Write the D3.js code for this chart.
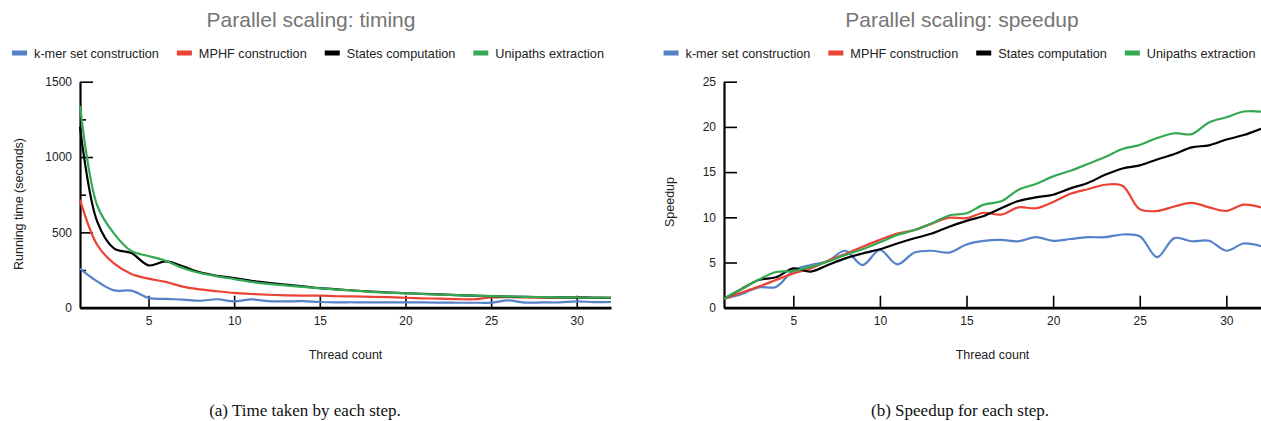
<!DOCTYPE html>
<html>
<head>
<meta charset="utf-8">
<script src="https://cdn.jsdelivr.net/npm/d3@7"></script>
<style>
  body { margin: 0; background: #fff; }
  svg { display: block; font-family: "Liberation Sans", Arial, sans-serif; }
  .tick text { font-size: 12px; fill: #222; }
  .caption { font-family: "Liberation Serif", "Times New Roman", serif; }
</style>
</head>
<body>
<svg id="chart" width="1261" height="421"></svg>
<script>
// thread counts on the x axis
var threads = [1, 2, 3, 4, 5, 6, 7, 8, 9, 10, 11, 12, 13, 14, 15, 16,
               17, 18, 19, 20, 21, 22, 23, 24, 25, 26, 27, 28, 29, 30, 31, 32];

var seriesNames = ["k-mer set construction", "MPHF construction", "States computation", "Unipaths extraction"];
var seriesColors = ["#5581c9", "#ea4335", "#000000", "#34a853"];

// running time (seconds)
var kmerTime     = [260, 175, 115, 113, 65, 58, 54, 46, 56, 42, 55, 43, 42, 43, 38, 36,
                    36, 35, 36, 35, 35, 34, 33, 33, 34, 48, 34, 35, 35, 42, 37, 38];
var mphfTime     = [717, 418, 292, 224, 193, 171, 140, 122, 109, 98, 91, 86, 82, 80, 80, 76,
                    75, 72, 70, 66, 62, 60, 57, 56, 68, 70, 68, 66, 68, 70, 66, 66];
var statesTime   = [1200, 573, 392, 363, 281, 308, 275, 235, 212, 197, 179, 165, 153, 142, 130, 122,
                    114, 107, 101, 96, 92, 88, 84, 80, 77, 74, 72, 70, 68, 67, 66, 65];
var unipathsTime = [1340, 680, 490, 376, 343, 312, 263, 230, 208, 190, 171, 158, 148, 138, 129, 120,
                    113, 105, 100, 95, 91, 87, 83, 80, 77, 74, 72, 71, 69, 68, 67, 66];

// speedup
var kmerSpeedup     = [1, 1.5, 2.25, 2.3, 4.1, 4.72, 5.17, 6.3, 4.72, 6.38, 4.8, 6.1, 6.3, 6.1, 7.0, 7.4,
                       7.5, 7.35, 7.8, 7.4, 7.6, 7.8, 7.8, 8.1, 7.9, 5.6, 7.7, 7.35, 7.4, 6.3, 7.1, 6.8];
var mphfSpeedup     = [1, 1.66, 2.33, 3.06, 3.8, 4.35, 5.2, 5.94, 6.75, 7.5, 8.2, 8.6, 9.3, 9.95, 9.9, 10.5,
                       10.3, 11.1, 11.0, 11.7, 12.6, 13.1, 13.6, 13.5, 10.9, 10.7, 11.2, 11.6, 11.1, 10.7, 11.4, 11.1];
var statesSpeedup   = [1, 2.05, 3.06, 3.36, 4.35, 4.0, 4.72, 5.46, 6.0, 6.46, 7.1, 7.68, 8.2, 8.96, 9.6, 10.15,
                       11.0, 11.8, 12.2, 12.5, 13.2, 13.8, 14.7, 15.4, 15.75, 16.4, 17.0, 17.74, 17.96, 18.6, 19.1, 19.8];
var unipathsSpeedup = [1, 2.05, 3.1, 3.95, 4.06, 4.54, 5.1, 5.83, 6.46, 7.23, 8.04, 8.6, 9.34, 10.2, 10.44, 11.4,
                       11.77, 13.05, 13.68, 14.53, 15.15, 15.9, 16.67, 17.56, 18.0, 18.77, 19.3, 19.2, 20.5, 21.06, 21.7, 21.7];

var threadTicks = [5, 10, 15, 20, 25, 30];
var timeTicks = [0, 500, 1000, 1500];
var timeMinorTicks = [250, 750, 1250];
var speedupTicks = [0, 5, 10, 15, 20, 25];

var svg = d3.select("#chart");

function drawPanel(p) {
  var x = d3.scaleLinear().domain([1, 32]).range([p.left, p.right]);
  var y = d3.scaleLinear().domain(p.yDomain).range([p.bottom, p.top]);
  var g = svg.append("g");

  // title
  g.append("text")
    .attr("x", p.titleX).attr("y", 27)
    .attr("text-anchor", "middle")
    .attr("font-size", 21).attr("fill", "#757575")
    .text(p.title);

  // legend, measured then centred
  var leg = g.append("g");
  var cx = 0;
  seriesNames.forEach(function(name, i) {
    leg.append("rect").attr("x", cx).attr("y", 50.5).attr("width", 15).attr("height", 5)
      .attr("fill", seriesColors[i]);
    var t = leg.append("text").attr("x", cx + 22).attr("y", 57.5)
      .attr("font-size", 12.7).attr("fill", "#222").text(name);
    cx += 22 + t.node().getComputedTextLength() + 18;
  });
  var legW = cx - 18;
  leg.attr("transform", "translate(" + (p.legendX - legW / 2) + ",0)");

  // axes
  var ya = g.append("g").attr("transform", "translate(" + p.left + ",0)")
    .call(d3.axisLeft(y).tickValues(p.yTicks).tickFormat(d3.format("d"))
      .tickSize(-13).tickSizeOuter(0).tickPadding(8));
  if (p.yMinor) {
    g.append("g").attr("transform", "translate(" + p.left + ",0)")
      .call(d3.axisLeft(y).tickValues(p.yMinor).tickSize(-6).tickFormat("").tickSizeOuter(0))
      .select(".domain").remove();
  }
  var xa = g.append("g").attr("transform", "translate(0," + p.bottom + ")")
    .call(d3.axisBottom(x).tickValues(threadTicks).tickSize(-12).tickSizeOuter(0).tickPadding(9));

  g.selectAll(".tick line").attr("stroke", "#000").attr("stroke-width", 1.6);
  ya.select(".domain").attr("stroke", "#000").attr("stroke-width", 2.2);
  xa.select(".domain").attr("stroke", "#000").attr("stroke-width", 2.8);
  g.selectAll(".tick text").attr("font-family", "Liberation Sans, Arial, sans-serif");

  // lines, over the axes
  var line = d3.line()
    .x(function(d, i) { return x(threads[i]); })
    .y(function(d) { return y(d); })
    .curve(d3.curveCatmullRom.alpha(0.5));
  p.series.forEach(function(s, i) {
    g.append("path").datum(s)
      .attr("fill", "none")
      .attr("stroke", seriesColors[i])
      .attr("stroke-width", 2.2)
      .attr("stroke-linejoin", "round")
      .attr("d", line);
  });

  // axis titles
  g.append("text")
    .attr("x", (p.left + p.right) / 2).attr("y", 358.5)
    .attr("text-anchor", "middle").attr("font-size", 12.5).attr("fill", "#222")
    .text("Thread count");
  g.append("text")
    .attr("transform", "translate(" + p.yTitleX + "," + p.yTitleY + ") rotate(-90)")
    .attr("text-anchor", "middle").attr("font-size", 12.5).attr("fill", "#222")
    .text(p.yTitle);

  // caption
  g.append("text").attr("class", "caption")
    .attr("x", p.captionX).attr("y", 415.5)
    .attr("text-anchor", "middle").attr("font-size", 17).attr("fill", "#111")
    .text(p.caption);
}

drawPanel({
  left: 80, right: 611, top: 81.7, bottom: 307.7,
  yDomain: [0, 1500], yTicks: timeTicks, yMinor: timeMinorTicks,
  series: [kmerTime, mphfTime, statesTime, unipathsTime],
  title: "Parallel scaling: timing", titleX: 311, legendX: 308,
  yTitle: "Running time (seconds)", yTitleX: 22.5, yTitleY: 204,
  caption: "(a) Time taken by each step.", captionX: 305
});

drawPanel({
  left: 724, right: 1261, top: 81.7, bottom: 307.7,
  yDomain: [0, 25], yTicks: speedupTicks, yMinor: null,
  series: [kmerSpeedup, mphfSpeedup, statesSpeedup, unipathsSpeedup],
  title: "Parallel scaling: speedup", titleX: 962, legendX: 959.5,
  yTitle: "Speedup", yTitleX: 673.5, yTitleY: 202,
  caption: "(b) Speedup for each step.", captionX: 960
});
</script>
</body>
</html>
